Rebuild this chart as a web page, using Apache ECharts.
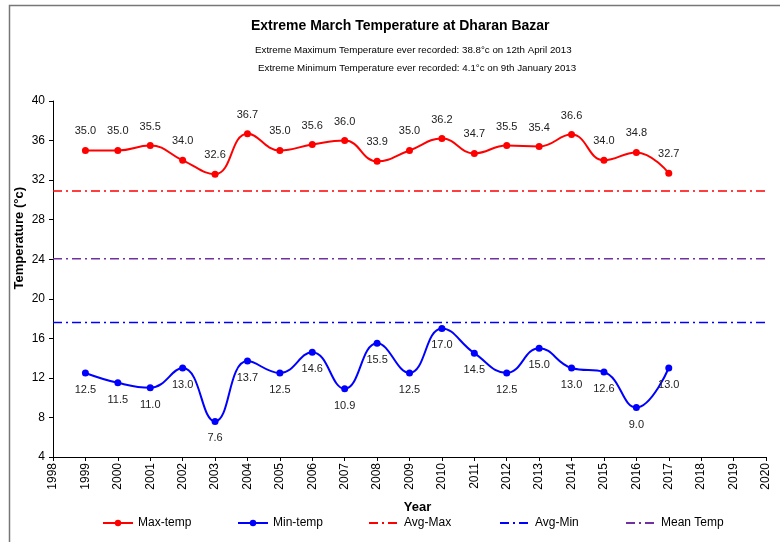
<!DOCTYPE html>
<html>
<head>
<meta charset="utf-8">
<script src="https://cdn.jsdelivr.net/npm/echarts@6/dist/echarts.min.js"></script>
<style>
  html, body { margin: 0; padding: 0; background: #fff; }
  #main { width: 780px; height: 542px; }
</style>
</head>
<body>
<div id="main"></div>
<script>
const years = [1999, 2000, 2001, 2002, 2003, 2004, 2005, 2006, 2007, 2008, 2009, 2010, 2011, 2012, 2013, 2014, 2015, 2016, 2017];
const maxTemp = [35.0, 35.0, 35.5, 34.0, 32.6, 36.7, 35.0, 35.6, 36.0, 33.9, 35.0, 36.2, 34.7, 35.5, 35.4, 36.6, 34.0, 34.8, 32.7];
const minTemp = [12.5, 11.5, 11.0, 13.0, 7.6, 13.7, 12.5, 14.6, 10.9, 15.5, 12.5, 17.0, 14.5, 12.5, 15.0, 13.0, 12.6, 9.0, 13.0];
const lineSpan = [1998, 2020];
const avgMax = 30.9;
const avgMin = 17.6;
const meanTemp = 24.05;

const font = 'Liberation Sans, Arial, sans-serif';
const dashDot = [9, 4, 2, 4];

const chart = echarts.init(document.getElementById('main'), null, { renderer: 'canvas' });

function pairs(xs, ys) {
  return xs.map((x, i) => [x, ys[i]]);
}
function flat(v) {
  return lineSpan.map(x => [x, v]);
}

function legendAt(name, left, noSymbol) {
  const lg = {
    data: [name],
    left: left,
    top: 512,
    itemWidth: 30,
    itemHeight: 8,
    itemGap: 4,
    textStyle: { fontFamily: font, fontSize: 12, color: '#000' }
  };
  if (noSymbol) lg.itemStyle = { opacity: 0 };
  return lg;
}

const option = {
  animation: false,
  backgroundColor: '#fff',
  title: [{
    text: 'Extreme March Temperature at Dharan Bazar',
    left: 246,
    top: 14,
    textStyle: { fontFamily: font, fontSize: 14, fontWeight: 'bold', color: '#000' }
  }, {
    text: 'Extreme Maximum Temperature ever recorded: 38.8°c on 12th April 2013',
    left: 250,
    top: 40,
    textStyle: { fontFamily: font, fontSize: 9.75, fontWeight: 'normal', color: '#000' }
  }, {
    text: 'Extreme Minimum Temperature ever recorded: 4.1°c on 9th January 2013',
    left: 253,
    top: 58,
    textStyle: { fontFamily: font, fontSize: 9.75, fontWeight: 'normal', color: '#000' }
  }],
  legend: [
    legendAt('Max-temp', 97, false),
    legendAt('Min-temp', 232, false),
    legendAt('Avg-Max', 363, true),
    legendAt('Avg-Min', 494, true),
    legendAt('Mean Temp', 620, true)
  ],
  grid: {
    left: 53,
    right: 14,
    top: 101,
    bottom: 85
  },
  xAxis: {
    type: 'value',
    min: 1998,
    max: 2020,
    interval: 1,
    name: 'Year',
    nameLocation: 'middle',
    nameGap: 44,
    nameTextStyle: { fontFamily: font, fontSize: 13, fontWeight: 'bold', color: '#000', padding: [0, 0, 0, 16] },
    axisLine: { lineStyle: { color: '#000', width: 1 } },
    axisTick: { lineStyle: { color: '#000' }, length: 4 },
    axisLabel: { rotate: 90, fontFamily: font, fontSize: 12, color: '#000', margin: 6, formatter: v => String(v) },
    splitLine: { show: false }
  },
  yAxis: {
    type: 'value',
    min: 4,
    max: 40,
    interval: 4,
    axisLine: { show: true, lineStyle: { color: '#000', width: 1 } },
    axisTick: { show: true, lineStyle: { color: '#000' }, length: 4 },
    axisLabel: { fontFamily: font, fontSize: 12, color: '#000', margin: 8 },
    splitLine: { show: false }
  },
  graphic: [{
    type: 'text',
    left: 13,
    top: 187,
    rotation: Math.PI / 2,
    style: {
      text: 'Temperature (°c)',
      font: 'bold 13px ' + font,
      fill: '#000'
    }
  }, {
    type: 'polyline',
    shape: { points: [[9.5, 542], [9.5, 5.5], [780, 5.5]] },
    style: { stroke: '#777', lineWidth: 1.5, fill: null }
  }],
  series: [{
    name: 'Max-temp',
    type: 'line',
    data: pairs(years, maxTemp),
    smooth: 0.45,
    symbol: 'circle',
    symbolSize: 7,
    z: 5,
    itemStyle: { color: '#ff0000' },
    lineStyle: { color: '#ff0000', width: 2 },
    label: {
      show: true,
      position: 'top',
      distance: 10,
      formatter: p => p.value[1].toFixed(1),
      fontFamily: font,
      fontSize: 11,
      color: '#222'
    }
  }, {
    name: 'Min-temp',
    type: 'line',
    data: pairs(years, minTemp),
    smooth: 0.45,
    symbol: 'circle',
    symbolSize: 7,
    z: 5,
    itemStyle: { color: '#0000ff' },
    lineStyle: { color: '#0000ff', width: 2 },
    label: {
      show: true,
      position: 'bottom',
      distance: 8,
      formatter: p => p.value[1].toFixed(1),
      fontFamily: font,
      fontSize: 11,
      color: '#222'
    }
  }, {
    name: 'Avg-Max',
    type: 'line',
    data: flat(avgMax),
    symbol: 'none',
    itemStyle: { color: '#ff0000' },
    lineStyle: { color: '#ff0000', width: 1.5, type: dashDot }
  }, {
    name: 'Avg-Min',
    type: 'line',
    data: flat(avgMin),
    symbol: 'none',
    itemStyle: { color: '#0000ff' },
    lineStyle: { color: '#0000ff', width: 1.5, type: dashDot }
  }, {
    name: 'Mean Temp',
    type: 'line',
    data: flat(meanTemp),
    symbol: 'none',
    itemStyle: { color: '#7030a0' },
    lineStyle: { color: '#7030a0', width: 1.5, type: dashDot }
  }]
};

chart.setOption(option);
</script>
</body>
</html>
